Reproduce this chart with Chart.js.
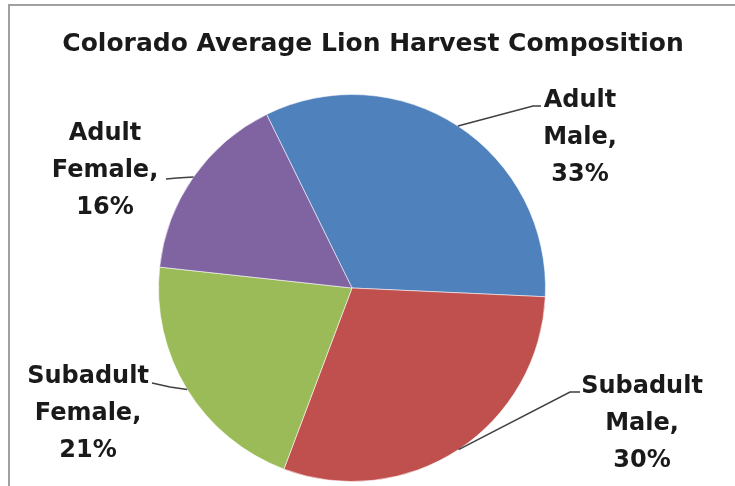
<!DOCTYPE html>
<html>
<head>
<meta charset="utf-8">
<script src="https://cdn.jsdelivr.net/npm/chart.js@4.4.0/dist/chart.umd.min.js"></script>
<style>
html,body{margin:0;padding:0;background:#fff;}
#wrap{width:735px;height:486px;position:relative;}
</style>
</head>
<body>
<div id="wrap"><canvas id="c" width="735" height="486"></canvas></div>
<script>
const chartTitle = "Colorado Average Lion Harvest Composition";
const categories = ["Adult Male", "Subadult Male", "Subadult Female", "Adult Female"];
const labelLines = [["Adult", "Male,"], ["Subadult", "Male,"], ["Subadult", "Female,"], ["Adult", "Female,"]];
const values = [33, 30, 21, 16];
const colors = ["#4F81BD", "#C0504D", "#9BBB59", "#8064A2"];

// label layout relative to pie center (offsets, px)
const labelLayout = [
  {cx: 228, base: -181, leader: [[181, -182], [189, -182]]},
  {cx: 290, base: 105, leader: [[218, 104], [228, 104]]},
  {cx: -264, base: 95, leader: [[-182, 99], [-200, 95]]},
  {cx: -247, base: -148, leader: [[-175, -110], [-186, -109]]}
];
const lineGap = 37;

const decor = {
  id: 'decor',
  beforeDraw(chart) {
    const ctx = chart.ctx;
    ctx.save();
    ctx.fillStyle = '#fff';
    ctx.fillRect(0, 0, chart.width, chart.height);
    ctx.strokeStyle = '#a0a0a0';
    ctx.lineWidth = 2;
    ctx.beginPath();
    ctx.moveTo(9, chart.height);
    ctx.lineTo(9, 5);
    ctx.lineTo(chart.width, 5);
    ctx.stroke();
    ctx.restore();
  },
  afterDraw(chart) {
    const ctx = chart.ctx;
    ctx.save();
    ctx.fillStyle = '#1a1a1a';
    ctx.font = 'bold 25px "DejaVu Sans"';
    ctx.textAlign = 'center';
    ctx.textBaseline = 'alphabetic';
    ctx.fillText(chartTitle, 373, 51);

    const meta = chart.getDatasetMeta(0);
    meta.data.forEach((arc, i) => {
      const p = arc.getProps(['x', 'y', 'startAngle', 'endAngle', 'outerRadius'], true);
      const mid = (p.startAngle + p.endAngle) / 2;
      const ax = p.x + Math.cos(mid) * p.outerRadius;
      const ay = p.y + Math.sin(mid) * p.outerRadius;
      const L = labelLayout[i];
      ctx.strokeStyle = '#404040';
      ctx.lineWidth = 1.5;
      ctx.beginPath();
      ctx.moveTo(ax, ay);
      L.leader.forEach(q => ctx.lineTo(p.x + q[0], p.y + q[1]));
      ctx.stroke();
      const lines = labelLines[i].concat([values[i] + '%']);
      ctx.font = 'bold 24px "DejaVu Sans"';
      ctx.fillStyle = '#1a1a1a';
      lines.forEach((t, k) => {
        ctx.fillText(t, p.x + L.cx, p.y + L.base + k * lineGap);
      });
    });
    ctx.restore();
  }
};

new Chart(document.getElementById('c'), {
  type: 'pie',
  data: {
    labels: categories,
    datasets: [{
      data: values,
      backgroundColor: colors,
      borderColor: 'rgba(255,255,255,0.55)',
      borderWidth: 1,
      hoverOffset: 0
    }]
  },
  options: {
    responsive: false,
    animation: false,
    events: [],
    rotation: -26.2,
    layout: {padding: {top: 94, bottom: 4, left: 0, right: 31}},
    plugins: {
      legend: {display: false},
      title: {display: false},
      tooltip: {enabled: false}
    }
  },
  plugins: [decor]
});
</script>
</body>
</html>
